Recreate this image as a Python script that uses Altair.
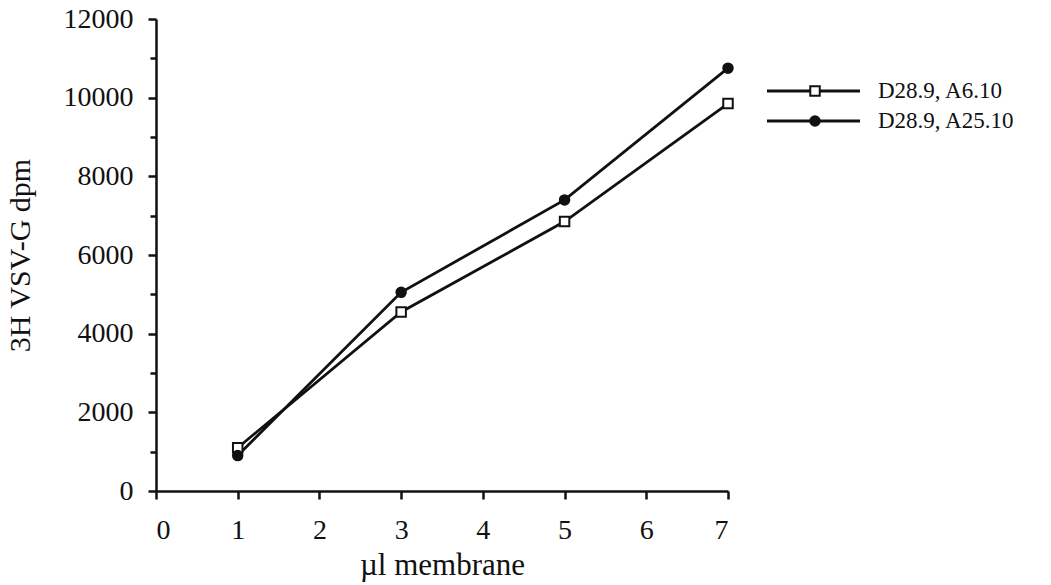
import altair as alt
import pandas as pd

x_vals = [1, 3, 5, 7]
series_names = ["D28.9, A6.10", "D28.9, A25.10"]
a6_vals = [1100, 4550, 6850, 9850]
a25_vals = [900, 5050, 7400, 10750]

rows = []
for xv, v in zip(x_vals, a6_vals):
    rows.append({"x": xv, "y": v, "series": series_names[0]})
for xv, v in zip(x_vals, a25_vals):
    rows.append({"x": xv, "y": v, "series": series_names[1]})
df = pd.DataFrame(rows)

FONT = "Liberation Serif"
INK = "#111111"

x_ticks = [i * 0.5 for i in range(15)]
y_ticks = [i * 1000 for i in range(13)]

shape_scale = alt.Scale(domain=series_names, range=["square", "circle"])
fill_scale = alt.Scale(domain=series_names, range=["white", INK])

x_enc = alt.X(
    "x:Q",
    scale=alt.Scale(domain=[0, 7], nice=False, zero=False),
    axis=alt.Axis(
        title="µl membrane",
        values=x_ticks,
        format="d",
        labelExpr="datum.value % 1 ? '' : datum.label",
        tickSize={"condition": {"test": "datum.value % 1 !== 0", "value": 5}, "value": 8},
        grid=False,
        domainColor=INK, domainWidth=2.5,
        tickColor=INK, tickWidth=2.5,
        labelFont=FONT, labelFontSize=28, labelColor=INK, labelPadding=17,
        titleFont=FONT, titleFontSize=31, titleFontWeight="normal", titleColor=INK,
        titlePadding=6,
    ),
)
y_enc = alt.Y(
    "y:Q",
    scale=alt.Scale(domain=[0, 12000], nice=False),
    axis=alt.Axis(
        title="3H VSV-G dpm",
        values=y_ticks,
        format="d",
        labelExpr="datum.value % 2000 ? '' : datum.label",
        tickSize={"condition": {"test": "datum.value % 2000 !== 0", "value": 6}, "value": 8},
        grid=False,
        domainColor=INK, domainWidth=2.5,
        tickColor=INK, tickWidth=2.5,
        labelFont=FONT, labelFontSize=28, labelColor=INK, labelPadding=15,
        titleFont=FONT, titleFontSize=30, titleFontWeight="normal", titleColor=INK,
        titlePadding=28,
    ),
)

base = alt.Chart(df)
lines = base.mark_line(color=INK, strokeWidth=2.8).encode(x=x_enc, y=y_enc, detail="series:N")
points = base.mark_point(filled=True, stroke=INK, strokeWidth=2, size=90, opacity=1).encode(
    x=x_enc,
    y=y_enc,
    shape=alt.Shape("series:N", scale=shape_scale, legend=None),
    fill=alt.Fill("series:N", scale=fill_scale, legend=None),
)
main = alt.layer(lines, points).properties(width=572, height=472)

leg_df = pd.DataFrame({"series": series_names})
leg_base = alt.Chart(leg_df)
leg_y = alt.Y("series:N", sort=series_names,
              scale=alt.Scale(type="point", range=[72, 102], padding=0), axis=None)
leg_rule = leg_base.mark_rule(color=INK, strokeWidth=2.8).encode(
    x=alt.value(0), x2=alt.value(93), y=leg_y)
leg_pts = leg_base.mark_point(filled=True, stroke=INK, strokeWidth=2, size=90, opacity=1).encode(
    x=alt.value(48), y=leg_y,
    shape=alt.Shape("series:N", scale=shape_scale, legend=None),
    fill=alt.Fill("series:N", scale=fill_scale, legend=None),
)
leg_txt = leg_base.mark_text(align="left", baseline="middle", font=FONT, fontSize=23, color=INK).encode(
    x=alt.value(111), y=leg_y, text="series:N")
legend = alt.layer(leg_rule, leg_pts, leg_txt).properties(width=240, height=472)

chart = alt.hconcat(main, legend, spacing=28, background="white").resolve_scale(
    shape="independent", fill="independent"
).configure_view(strokeWidth=0)

chart.save("out.html", embed_options={"renderer": "svg", "actions": False})
